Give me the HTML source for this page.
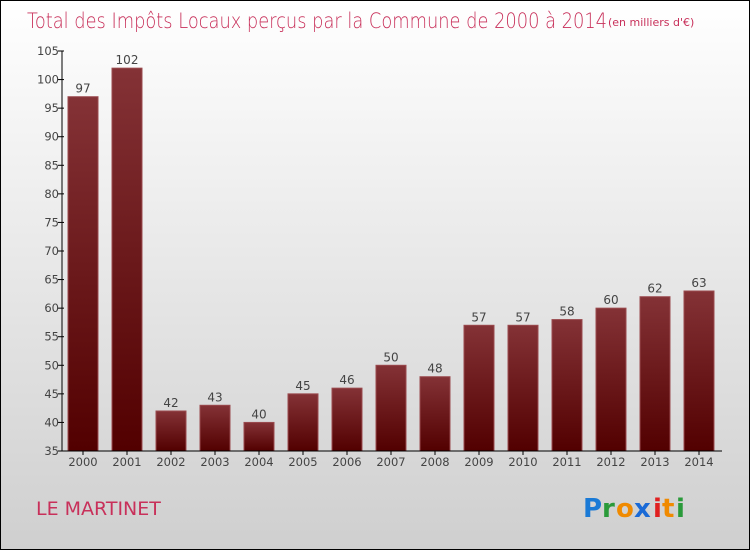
<!DOCTYPE html>
<html><head><meta charset="utf-8"><style>
body{margin:0}
#c{width:748px;height:548px;border:1px solid #000;background:linear-gradient(#fff,#cfcfcf);position:relative;overflow:hidden;font-family:"DejaVu Sans","Liberation Sans",sans-serif}
</style></head><body>
<div id="c">
<svg id="s" width="748" height="548">
<defs>
<linearGradient id="bg" x1="0" y1="0" x2="0" y2="1"><stop offset="0" stop-color="#843236"/><stop offset="1" stop-color="#520000"/></linearGradient>
</defs>
<text x="26" y="27" font-size="21" fill="#c8305a" font-weight="300" style="font-family:'DejaVu Sans','Liberation Sans',sans-serif" textLength="580" lengthAdjust="spacingAndGlyphs">Total des Impôts Locaux perçus par la Commune de 2000 à 2014</text>
<text x="607" y="25" font-size="11" fill="#c8305a">(en milliers d'€)</text>
<text x="35" y="514" font-size="19" fill="#c8305a">LE MARTINET</text>
<g font-size="26" font-weight="bold" font-family="'DejaVu Sans',sans-serif">
<text x="582" y="516" fill="#1a7ad6">P</text><text x="601" y="516" fill="#2a9a3a">r</text><text x="615" y="516" fill="#f08a00">o</text><text x="633" y="516" fill="#1a6ad6">x</text><text x="652" y="516" fill="#e02020">i</text><text x="661" y="516" fill="#f08a00">t</text><text x="675" y="516" fill="#2a9a3a">i</text>
</g>
<g id="plot"></g>
</svg>
</div>
<script>
const categories=["2000","2001","2002","2003","2004","2005","2006","2007","2008","2009","2010","2011","2012","2013","2014"];
const values=[97,102,42,43,40,45,46,50,48,57,57,58,60,62,63];
const yTicks=[35,40,45,50,55,60,65,70,75,80,85,90,95,100,105];
const yMin=35,yMax=105,pTop=50,pBot=450,x0=61,step=44;
const y=v=>pBot-(v-yMin)/(yMax-yMin)*(pBot-pTop);
const xc=i=>x0+21+i*step;
const g=document.getElementById('plot');
const NS="http://www.w3.org/2000/svg";
function mk(t,a){const e=document.createElementNS(NS,t);for(const k in a)e.setAttribute(k,a[k]);g.appendChild(e);return e;}
values.forEach((v,i)=>{
 const r=mk('rect',{x:xc(i)-15,y:y(v),width:30,height:pBot-y(v),fill:'url(#bg)',stroke:'#9a4a4e','stroke-width':1});
 
 
 const t=mk('text',{x:xc(i),y:y(v)-4,'text-anchor':'middle','font-size':12,fill:'#444'});
 t.textContent=v;
 
 
 const l=mk('text',{x:xc(i),y:pBot+15,'text-anchor':'middle','font-size':11.5,fill:'#444'});
 l.textContent=categories[i];
 
 
 const tk=mk('line',{x1:xc(i),x2:xc(i),y1:pBot,y2:pBot+4,stroke:'#000'});
 
 
});
yTicks.forEach(v=>{
 const tk=mk('line',{x1:x0-4,x2:x0+2,y1:y(v),y2:y(v),stroke:'#000'});
 
 
 const t=mk('text',{x:x0-3,y:y(v)+4,'text-anchor':'end','font-size':11.5,fill:'#444'});
 t.textContent=v;
 
 
});
const ya=mk('line',{x1:x0,x2:x0,y1:pTop,y2:pBot,stroke:'#000'});


const xa=mk('line',{x1:x0,x2:721,y1:pBot,y2:pBot,stroke:'#000'});


</script>
</body></html>
